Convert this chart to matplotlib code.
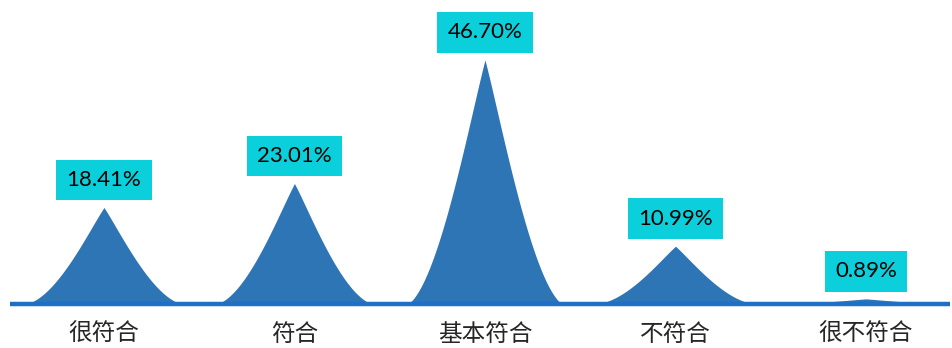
import numpy as np
import matplotlib
matplotlib.use("Agg")
import matplotlib.pyplot as plt

categories = ["很符合", "符合", "基本符合", "不符合", "很不符合"]
values = [18.41, 23.01, 46.70, 10.99, 0.89]
labels = ["18.41%", "23.01%", "46.70%", "10.99%", "0.89%"]

fill_color = "#2E75B6"
line_color = "#1E6FC6"
box_color = "#0BCFDB"

W, H = 952, 348
fig = plt.figure(figsize=(W / 100, H / 100), dpi=100)
ax = fig.add_axes([10 / W, 44.5 / H, 940 / W, 303.5 / H])
ax.set_xlim(-0.493, 4.441)
ax.set_ylim(0, 58.2)
ax.axis("off")

# normalized peak profile (shape only): cubic bezier from tip (0,1) to foot (1,0)
s = np.linspace(0, 1, 400)
P = np.array([[0.0, 1.0], [0.2, 0.762], [0.6, 0.1], [1.0, 0.0]])
B = ((1 - s) ** 3)[:, None] * P[0] + (3 * (1 - s) ** 2 * s)[:, None] * P[1] \
    + (3 * (1 - s) * s ** 2)[:, None] * P[2] + (s ** 3)[:, None] * P[3]
tx = np.concatenate([-B[::-1, 0], B[1:, 0]])
ty = np.concatenate([B[::-1, 1], B[1:, 1]])

half_w = 0.40
for i, v in enumerate(values):
    ax.fill_between(i + tx * half_w, 0, ty * v, color=fill_color, lw=0, zorder=2)
    ax.annotate(labels[i], xy=(i, v), xytext=(0, 12.6), textcoords="offset points",
                ha="center", va="bottom", fontsize=16, family=["Lato", "DejaVu Sans"],
                color="black", zorder=4,
                bbox=dict(boxstyle="square,pad=0.46", fc=box_color, ec="none"))

ax.plot([-0.493, 4.441], [0, 0], color=line_color, lw=3.2,
        solid_capstyle="butt", zorder=3, clip_on=False)

for i, c in enumerate(categories):
    ax.text(i, -5.9, c, ha="center", va="center", fontsize=17,
            family=["Noto Sans CJK SC", "DejaVu Sans"], color="#262626",
            fontweight="light", clip_on=False)

fig.savefig("out.png", dpi=100)
